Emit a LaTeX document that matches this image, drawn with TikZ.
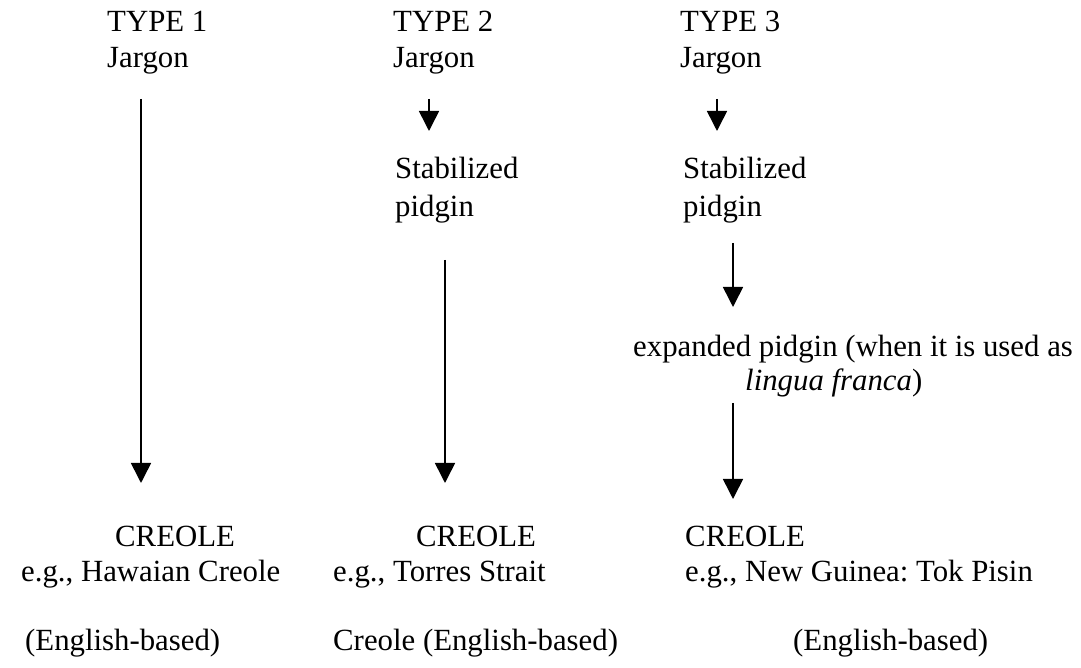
\documentclass[tikz,border=0pt]{standalone}
\usepackage{fontspec}
\setmainfont{Liberation Serif}
\usetikzlibrary{arrows.meta}
\frenchspacing
\tikzset{
  lbl/.style={anchor=base west, inner sep=0pt, font=\fontsize{30.8}{36}\selectfont},
  arr/.style={line width=1.6pt, -{Triangle[width=20pt,length=20pt]}}
}
\begin{document}
\begin{tikzpicture}[x=1pt,y=1pt]
\useasboundingbox (0,0) rectangle (1081,668);
% column 1
\node[lbl] (t1) at (107,636) {TYPE 1};
\node[lbl] (j1) at (107,600) {Jargon};
\node[lbl] (c1) at (115,121) {CREOLE};
\node[lbl] (g1) at (21,86) {e.g., Hawaian Creole};
\node[lbl] (b1) at (25,17) {(English-based)};
% column 2
\node[lbl] (t2) at (393,636) {TYPE 2};
\node[lbl] (j2) at (393,600) {Jargon};
\node[lbl] (s2) at (395,489) {Stabilized};
\node[lbl] (p2) at (395,451) {pidgin};
\node[lbl] (c2) at (416,121) {CREOLE};
\node[lbl] (g2) at (333,86) {e.g., Torres Strait};
\node[lbl] (b2) at (333,17) {Creole (English-based)};
% column 3
\node[lbl] (t3) at (680,636) {TYPE 3};
\node[lbl] (j3) at (680,600) {Jargon};
\node[lbl] (s3) at (683,489) {Stabilized};
\node[lbl] (p3) at (683,451) {pidgin};
\node[lbl] (e3) at (633,311) {expanded pidgin (when it is used as};
\node[lbl] (l3) at (745,277) {\itshape lingua franca\upshape)};
\node[lbl] (c3) at (685,121) {CREOLE};
\node[lbl] (g3) at (685,86) {e.g., New Guinea: Tok Pisin};
\node[lbl] (b3) at (793,17) {(English-based)};
% arrows
\draw[arr] ([xshift=34pt,yshift=-31pt]j1.base west) -- ([xshift=26pt,yshift=64pt]c1.base west);
\draw[arr] ([xshift=36pt,yshift=-31pt]j2.base west) -- ([xshift=34pt,yshift=48pt]s2.base west);
\draw[arr] ([xshift=50pt,yshift=-43pt]p2.base west) -- ([xshift=29pt,yshift=64pt]c2.base west);
\draw[arr] ([xshift=37pt,yshift=-31pt]j3.base west) -- ([xshift=34pt,yshift=48pt]s3.base west);
\draw[arr] ([xshift=50pt,yshift=-26pt]p3.base west) -- ([xshift=100pt,yshift=50pt]e3.base west);
\draw[arr] ([xshift=-12pt,yshift=-12pt]l3.base west) -- ([xshift=48pt,yshift=48pt]c3.base west);
\end{tikzpicture}
\end{document}
